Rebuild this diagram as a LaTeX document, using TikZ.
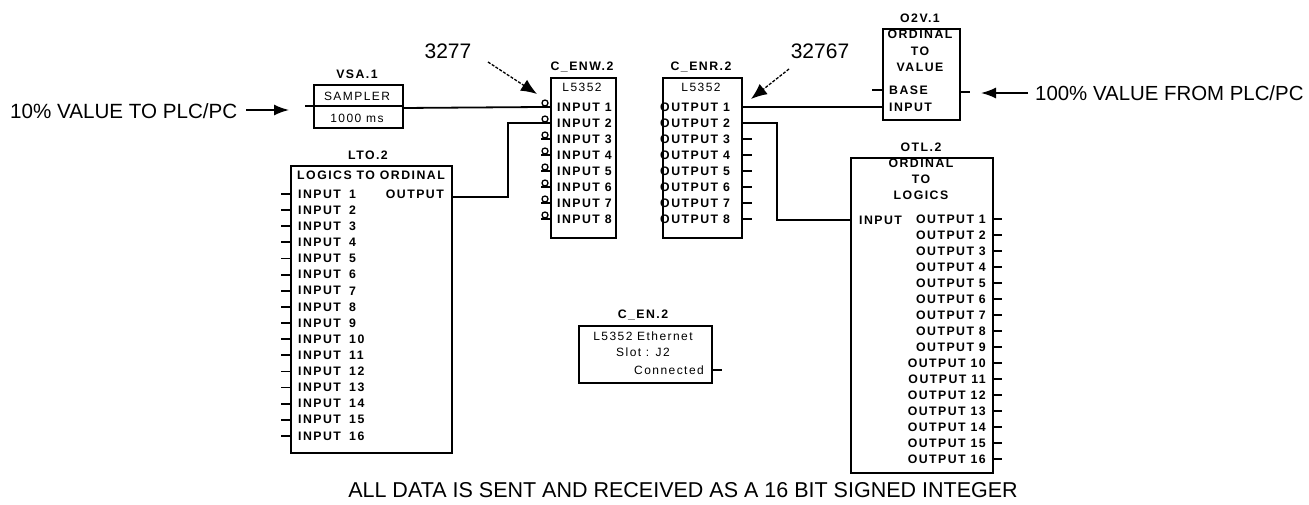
\documentclass[tikz,border=0pt]{standalone}
\usepackage{fontspec}
\setmainfont{Liberation Sans}
\newfontfamily\blkfont[LetterSpace=12]{Liberation Sans}
\usetikzlibrary{arrows.meta}
\tikzset{
  fbox/.style={draw, line width=2pt, inner sep=0pt, anchor=north west},
  lbl/.style={font=\blkfont\bfseries\fontsize{12.3}{13}\selectfont, inner sep=0pt},
  rlbl/.style={font=\blkfont\fontsize{12}{13}\selectfont, inner sep=0pt},
  wire/.style={line width=1.8pt},
  big/.style={font=\fontsize{21}{22}\selectfont, inner sep=0pt},
  bigarrow/.style={line width=1.6pt, -{Latex[length=15pt,width=11pt]}},
  annarrow/.style={line width=1.3pt, dash pattern=on 3pt off 1.5pt, -{Latex[length=16pt,width=13pt]}}
}
\begin{document}
\begin{tikzpicture}[x=1pt,y=-1pt]
\useasboundingbox (0,0) rectangle (1309,504);

% ---------- left input text ----------
\node[big, anchor=west, font=\fontsize{20.6}{22}\selectfont] (txtin) at (10,111) {10\% VALUE TO PLC/PC};
\coordinate (txtinA) at (246,110);
\coordinate (txtinB) at (289,110);
\draw[bigarrow] (txtinA) -- (txtinB);

% ---------- VSA.1 sampler ----------
\node[fbox, minimum width=89pt, minimum height=43pt] (vsa) at (313,84) {};
\node[lbl] (vsat) at (357,74) {VSA.1};
\draw[line width=1.6pt] (313,106) -- (402,106);
\node[rlbl] (vsa1) at (357,96) {SAMPLER};
\node[rlbl] (vsa2) at (357,118) {1000 ms};
\coordinate (vsain) at (305,106);
\coordinate (vsaout) at (402,108);
\draw[wire] (vsain) -- (vsa.west |- vsain);

% ---------- C_ENW.2 ----------
\node[fbox, minimum width=65pt, minimum height=160pt] (cenw) at (550,77) {};
\node[lbl] (cenwt) at (582,67) {C\_ENW.2};
\node[rlbl] (cenwl) at (582,87) {L5352};
\foreach \i in {1,...,8}{
  \pgfmathsetmacro{\yy}{107+16*(\i-1)}
  \node[lbl, anchor=west] (cenwi\i) at (557,\yy) {INPUT \i};
  \draw[line width=1.3pt] (545,\yy-4) circle (3pt);
  \coordinate (cenwp\i) at (541,\yy);
  \draw[wire] (cenwp\i) -- (550,\yy);
}

% ---------- C_ENR.2 ----------
\node[fbox, minimum width=79pt, minimum height=160pt] (cenr) at (662,77) {};
\node[lbl] (cenrt) at (701,67) {C\_ENR.2};
\node[rlbl] (cenrl) at (701,87) {L5352};
\foreach \i in {1,...,8}{
  \pgfmathsetmacro{\yy}{107+16*(\i-1)}
  \node[lbl, anchor=west] (cenro\i) at (660,\yy) {OUTPUT \i};
  \coordinate (cenrp\i) at (741,\yy);
}
\foreach \i in {3,...,8}{
  \draw[wire] (cenrp\i) -- ++(11,0);
}

% ---------- O2V.1 ----------
\node[fbox, minimum width=77pt, minimum height=91pt] (o2v) at (882,28) {};
\node[lbl] (o2vt) at (920,18) {O2V.1};
\node[lbl] (o2v1) at (920,34) {ORDINAL};
\node[lbl] (o2v2) at (920,51) {TO};
\node[lbl] (o2v3) at (920,67) {VALUE};
\node[lbl, anchor=west] (o2vb) at (889,90) {BASE};
\node[lbl, anchor=west] (o2vi) at (889,107) {INPUT};
\coordinate (o2vbase) at (872,90);
\coordinate (o2vin) at (882,107);
\coordinate (o2vout) at (970,92);
\draw[wire] (o2vbase) -- (o2v.west |- o2vbase);
\draw[wire] (o2v.east |- o2vout) -- (o2vout);

% ---------- right input text ----------
\node[big, anchor=west, font=\fontsize{20.4}{22}\selectfont] (txtout) at (1035,93) {100\% VALUE FROM PLC/PC};
\coordinate (txtoutA) at (1028,93);
\coordinate (txtoutB) at (981,93);
\draw[bigarrow] (txtoutA) -- (txtoutB);

% ---------- OTL.2 ----------
\node[fbox, minimum width=142pt, minimum height=315pt] (otl) at (850,157) {};
\node[lbl] (otlt) at (921,147) {OTL.2};
\node[lbl] (otl1) at (921,163) {ORDINAL};
\node[lbl] (otl2) at (921,179) {TO};
\node[lbl] (otl3) at (921,195) {LOGICS};
\node[lbl, anchor=west] (otlin) at (859,220) {INPUT};
\coordinate (otlinp) at (850,220);
\foreach \i in {1,...,16}{
  \pgfmathsetmacro{\yy}{219+16*(\i-1)}
  \node[lbl, anchor=east] (otlo\i) at (986,\yy) {OUTPUT \i};
  \coordinate (otlp\i) at (992,\yy);
  \draw[wire] (otlp\i) -- ++(10,0);
}

% ---------- LTO.2 ----------
\node[fbox, minimum width=161pt, minimum height=287pt] (lto) at (290,165) {};
\node[lbl] (ltot) at (368,155) {LTO.2};
\node[lbl] (ltoh) at (371,175) {LOGICS TO ORDINAL};
\node[lbl, anchor=east] (ltoo) at (444,194) {OUTPUT};
\coordinate (ltoout) at (451,197);
\foreach \i in {1,...,16}{
  \pgfmathsetmacro{\yy}{194+16.13*(\i-1)}
  \node[lbl, anchor=west] (ltoi\i) at (298,\yy) {INPUT};
  \node[lbl, anchor=west] (ltoin\i) at (349,\yy) {\i};
  \coordinate (ltop\i) at (281,\yy);
  \draw[wire] (ltop\i) -- ++(9,0);
}

% ---------- C_EN.2 ----------
\node[fbox, minimum width=133pt, minimum height=57pt] (cen) at (578,325) {};
\node[lbl] (cent) at (643,315) {C\_EN.2};
\node[rlbl] (cen1) at (643,336) {L5352 Ethernet};
\node[rlbl] (cen2) at (643,352) {Slot : J2};
\node[rlbl, anchor=east] (cen3) at (704,370) {Connected};
\coordinate (cenp) at (722,370);
\draw[wire] (cen.east |- cenp) -- (cenp);

% ---------- connections ----------
\draw[wire] (vsaout) -- (cenwp1);
\draw[wire] (ltoout) -| (508,123) -- (cenwp2);
\draw[wire] (cenrp1) -- (o2vin);
\draw[wire] (cenrp2) -| (777,220) -- (otlinp);

% ---------- annotations ----------
\node[big] (a1) at (448,51) {3277};
\coordinate (a1s) at (488,62);
\coordinate (a1e) at (537,94);
\draw[annarrow] (a1s) -- (a1e);
\node[big] (a2) at (820,51) {32767};
\coordinate (a2s) at (789,69);
\coordinate (a2e) at (751,99);
\draw[annarrow] (a2s) -- (a2e);

% ---------- footer ----------
\node[big, font=\fontsize{21.5}{23}\selectfont] (foot) at (683,490) {ALL DATA IS SENT AND RECEIVED AS A 16 BIT SIGNED INTEGER};
\end{tikzpicture}
\end{document}
